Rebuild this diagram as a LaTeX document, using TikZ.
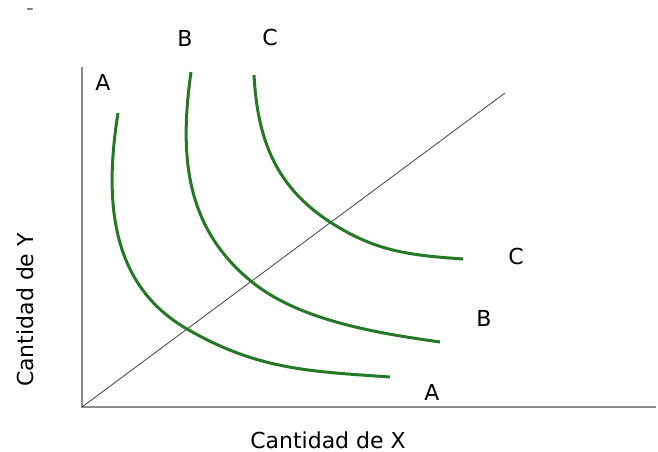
\documentclass[tikz,border=0pt]{standalone}
\usepackage{fontspec}
\setmainfont{DejaVu Sans}
\usepackage{xcolor}
\usetikzlibrary{positioning}
\definecolor{curvegreen}{RGB}{36,120,38}
\definecolor{axisgray}{RGB}{140,140,140}

\begin{document}
\begin{tikzpicture}[x=1pt,y=1pt,font=\fontsize{22}{25}\selectfont,
  curve/.style={curvegreen,line width=3pt},
  lbl/.style={inner sep=0pt}]
\useasboundingbox (0,0) rectangle (658,452);
% axes
\coordinate (O) at (82,45);
\coordinate (ytop) at (82,385);
\coordinate (xend) at (656,45);
\coordinate (diag) at (505,359);
\draw[axisgray,line width=2.5pt] (ytop) -- (O) -- (xend);
\draw[black!75,line width=0.8pt] (O) -- (diag);
% curves, each through its point on the diagonal
\coordinate (pa) at (187,123);
\coordinate (pb) at (252,170);
\coordinate (pc) at (330,230);
\draw[curve] (118,339) to[out=-99,in=150] (pa) to[out=-30,in=176] (390,75);
\draw[curve] (191,380) to[out=-98,in=141] (pb) to[out=-39,in=172,looseness=0.8] (440,110);
\draw[curve] (254,377) to[out=-87,in=147] (pc) to[out=-33,in=176] (463,193);
% labels
\node[lbl] (atop) at (103,370) {A};
\node[lbl] (btop) at (185,414) {B};
\node[lbl] (ctop) at (270,415) {C};
\node[lbl] (cend) at (516,196) {C};
\node[lbl] (bend) at (484,134) {B};
\node[lbl] (aend) at (432,60) {A};
\node[lbl] (xlab) at (328,12) {Cantidad de X};
\node[lbl,rotate=90] (ylab) at (25,142) {Cantidad de Y};
\node[lbl,black!55] (dash) at (30,440) {-};
\end{tikzpicture}
\end{document}
